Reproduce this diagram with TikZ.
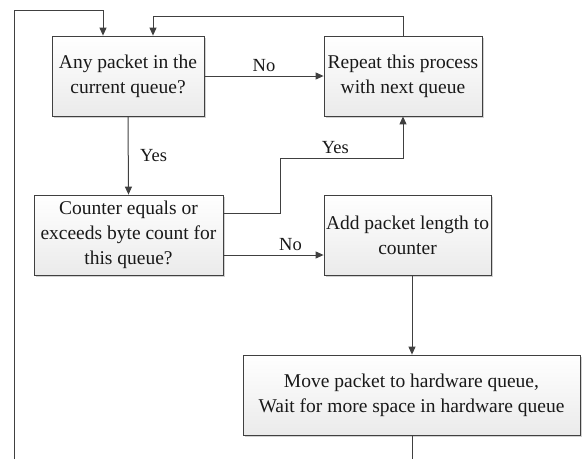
\documentclass[tikz,border=0pt]{standalone}
\usepackage{fontspec}
\setmainfont{Liberation Serif}
\usepackage{tikz}
\usetikzlibrary{arrows.meta}
\usetikzlibrary{shadows}
\definecolor{linegray}{HTML}{404040}
\tikzset{
  box/.style={draw=linegray, line width=0.8pt, align=center, inner sep=2pt,
    top color=white, bottom color=black!8, text=black!90,
    drop shadow={shadow xshift=2pt, shadow yshift=-2pt, fill=black!30, opacity=0.6}},
  flow/.style={draw=linegray, line width=1pt, -{Triangle[length=8pt, width=7pt]}},
  wire/.style={draw=linegray, line width=1pt},
  lbl/.style={font=\fontsize{18.5}{20}\selectfont, text=black!90}
}
\begin{document}
\begin{tikzpicture}[x=1pt, y=-1pt, font=\fontsize{19.5}{25}\selectfont]
            \useasboundingbox (0,0) rectangle (582,459);
            \node[box, minimum width=152pt, minimum height=80pt] (any) at (128,76) {Any packet in the\\current queue?};
            \node[box, minimum width=158pt, minimum height=80pt] (repeat) at (403,76) {Repeat this process\\with next queue};
            \node[box, minimum width=189pt, minimum height=80pt] (counter) at (128.5,235) {Counter equals or\\exceeds byte count for\\this queue?};
            \node[box, minimum width=167pt, minimum height=80pt] (add) at (407.5,235) {Add packet length to\\counter};
            \node[box, minimum width=337pt, minimum height=80pt] (move) at (411.5,395) {Move packet to hardware queue,\\Wait for more space in hardware queue};
            \coordinate (loopstart) at (14,459);
            \coordinate (loopend) at (412,459);
            % connectors
            \draw[flow] (loopstart) -- (14,10) -| ([xshift=-25pt]any.north);
            \draw[flow] (repeat.north) |- (153,16) -- ([xshift=25pt]any.north);
            \draw[flow] (any.east) -- node[lbl, above] {No} (repeat.west);
            \draw[flow] (any.south) -- node[lbl, right, xshift=8pt] {Yes} (counter.north);
            \draw[flow] ([yshift=22pt]counter.east) -- (280,213) -- (280,158) -- node[lbl, above, pos=0.45] {Yes} (403,158) -- (repeat.south);
            \draw[flow] ([yshift=-20pt]counter.east) -- node[lbl, above, pos=0.67] {No} ([yshift=-20pt]add.west);
            \draw[flow] ([xshift=4.5pt]add.south) -- ([xshift=0.5pt]move.north);
            \draw[wire] ([xshift=0.5pt]move.south) -- (loopend);
        \end{tikzpicture}
\end{document}
